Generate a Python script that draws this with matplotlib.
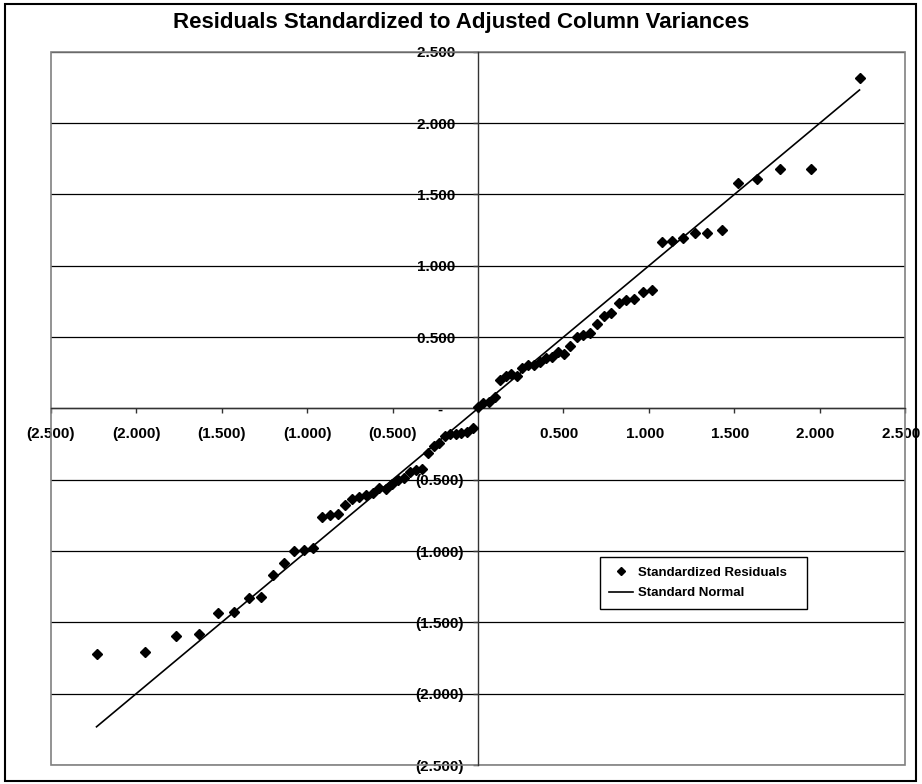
import matplotlib
matplotlib.use("Agg")
import matplotlib.pyplot as plt
from matplotlib.patches import Rectangle

plt.rcParams['font.family'] = ['Liberation Sans', 'DejaVu Sans']
plt.rcParams['font.weight'] = 'bold'

# expected normal scores (n = 77)
normal_scores = [
    -2.232, -1.950, -1.768, -1.631, -1.520, -1.426, -1.342, -1.267, -1.198, -1.135,
    -1.076, -1.020, -0.967, -0.915, -0.868, -0.822, -0.778, -0.736, -0.695, -0.654,
    -0.615, -0.577, -0.539, -0.502, -0.466, -0.431, -0.396, -0.361, -0.327, -0.293,
    -0.260, -0.227, -0.194, -0.161, -0.129, -0.097, -0.064, -0.032,
    0.000,
    0.032, 0.064, 0.097, 0.129, 0.161, 0.194, 0.227, 0.260, 0.293, 0.327,
    0.361, 0.396, 0.431, 0.466, 0.502, 0.539, 0.577, 0.615, 0.654, 0.695,
    0.736, 0.778, 0.822, 0.868, 0.915, 0.967, 1.020, 1.076, 1.135, 1.198,
    1.267, 1.342, 1.426, 1.520, 1.631, 1.768, 1.950, 2.232,
]

# sorted standardized residuals
residuals = [
    -1.720, -1.710, -1.596, -1.580, -1.437, -1.430, -1.330, -1.320, -1.170, -1.084,
    -1.000, -0.995, -0.977, -0.764, -0.748, -0.741, -0.678, -0.638, -0.624, -0.610,
    -0.596, -0.560, -0.563, -0.528, -0.502, -0.488, -0.449, -0.432, -0.428, -0.315,
    -0.264, -0.245, -0.194, -0.182, -0.182, -0.171, -0.164, -0.135,
    0.007,
    0.039, 0.042, 0.081, 0.198, 0.226, 0.240, 0.226, 0.280, 0.303, 0.303,
    0.327, 0.350, 0.362, 0.392, 0.380, 0.437, 0.498, 0.514, 0.530, 0.591,
    0.649, 0.666, 0.740, 0.759, 0.766, 0.813, 0.829, 1.163, 1.172, 1.191,
    1.226, 1.231, 1.249, 1.577, 1.607, 1.679, 1.679, 2.317,
]

ticks = [-2.5, -2.0, -1.5, -1.0, -0.5, 0.0, 0.5, 1.0, 1.5, 2.0, 2.5]
x_labels = ['(2.500)', '(2.000)', '(1.500)', '(1.000)', '(0.500)', '',
            '0.500  ', '1.000  ', '1.500  ', '2.000  ', '2.500  ']
y_labels = ['(2.500)', '(2.000)', '(1.500)', '(1.000)', '(0.500)', '-     ',
            '0.500  ', '1.000  ', '1.500  ', '2.000  ', '2.500  ']

fig = plt.figure(figsize=(9.22, 7.84), dpi=100)
ax = fig.add_axes([0.055, 0.0242, 0.9269, 0.9098])

ax.plot(normal_scores, residuals, linestyle='none', marker='D', markersize=4.8,
        color='black', label='Standardized Residuals   ', zorder=3)
ax.plot(normal_scores, normal_scores, color='black', lw=1.2,
        label='Standard Normal', zorder=2)

ax.set_xlim(-2.5, 2.5)
ax.set_ylim(-2.5, 2.5)

ax.spines['left'].set_position(('data', 0))
ax.spines['bottom'].set_position(('data', 0))
ax.spines['top'].set_visible(False)
ax.spines['right'].set_visible(False)
for s in ['left', 'bottom']:
    ax.spines[s].set_color('#333333')
    ax.spines[s].set_linewidth(1.0)

ax.set_xticks(ticks)
ax.set_xticklabels(x_labels)
ax.set_yticks(ticks)
ax.set_yticklabels(y_labels)
ax.tick_params(axis='both', direction='out', length=3.6, width=1.0,
               color='#333333', labelsize=11)
ax.tick_params(axis='x', pad=9.5)
ax.tick_params(axis='y', pad=6.5)

ax.yaxis.grid(True, color='black', lw=0.9)
ax.set_axisbelow(True)

ax.add_patch(Rectangle((0, 0), 1, 1, transform=ax.transAxes, fill=False,
                       edgecolor='#808080', lw=1.2, zorder=1, clip_on=False))

leg = ax.legend(loc='upper left', bbox_to_anchor=(0.643, 0.2916), fontsize=9.5,
                frameon=True, fancybox=False, framealpha=1, edgecolor='black',
                borderaxespad=0, handlelength=1.8, handletextpad=0.4,
                borderpad=0.7, labelspacing=0.65, markerscale=0.8)
leg.get_frame().set_linewidth(1.0)

fig.text(0.5, 0.971, 'Residuals Standardized to Adjusted Column Variances',
         ha='center', va='center', fontsize=16, fontweight='bold')

fig.patches.append(Rectangle((0.005, 0.004), 0.989, 0.991, transform=fig.transFigure,
                             fill=False, edgecolor='black', lw=1.5))

fig.savefig('out.png', dpi=100)
